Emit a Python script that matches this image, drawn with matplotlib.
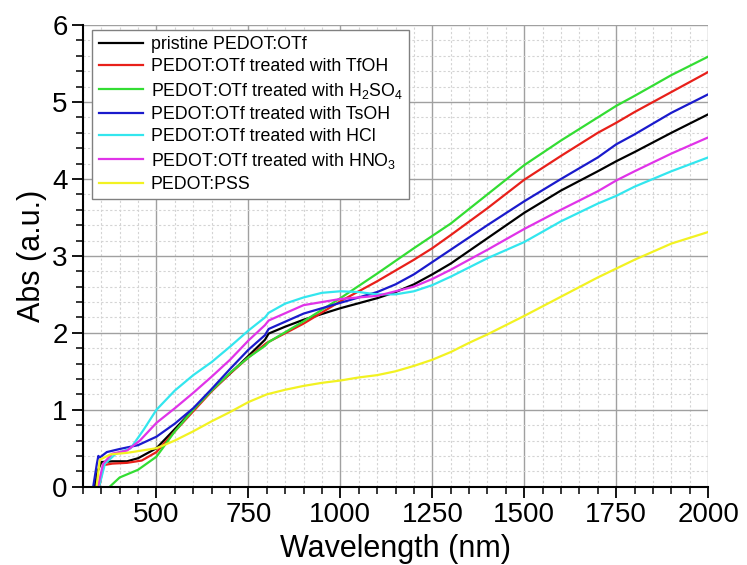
import matplotlib
matplotlib.use("Agg")
import matplotlib.pyplot as plt
from matplotlib.ticker import MultipleLocator

plt.rcParams['font.family'] = ['Liberation Sans', 'DejaVu Sans']
plt.rcParams['mathtext.fontset'] = 'custom'
plt.rcParams['mathtext.rm'] = 'Liberation Sans'
plt.rcParams['mathtext.it'] = 'Liberation Sans:italic'

# data (wavelength in nm, absorbance in a.u.)
wl_black = [332, 340, 350, 380, 420, 450, 500, 550, 600, 650, 700, 750, 795, 805, 850, 900, 1000,
            1100, 1150, 1200, 1250, 1300, 1400, 1500, 1600, 1700, 1750, 1800, 1900, 2000]
abs_black = [0, 0.2, 0.32, 0.33, 0.33, 0.37, 0.5, 0.75, 1.0, 1.25, 1.47, 1.7, 1.91, 1.99, 2.08, 2.17, 2.32,
             2.45, 2.53, 2.63, 2.76, 2.9, 3.23, 3.56, 3.85, 4.1, 4.23, 4.35, 4.6, 4.84]

wl_red = [345, 355, 380, 420, 460, 500, 550, 600, 650, 700, 750, 800, 900, 1000, 1100, 1200, 1250,
          1300, 1400, 1500, 1600, 1700, 1750, 1800, 1900, 2000]
abs_red = [0, 0.28, 0.3, 0.31, 0.34, 0.45, 0.72, 0.98, 1.24, 1.47, 1.68, 1.87, 2.12, 2.41, 2.67, 2.95, 3.1,
           3.27, 3.62, 3.99, 4.3, 4.6, 4.73, 4.87, 5.13, 5.39]

wl_green = [373, 400, 450, 500, 550, 600, 650, 700, 750, 795, 805, 900, 1000, 1100, 1200, 1250, 1300,
            1400, 1500, 1600, 1700, 1750, 1800, 1900, 2000]
abs_green = [0, 0.12, 0.22, 0.39, 0.72, 1.0, 1.25, 1.48, 1.68, 1.83, 1.88, 2.15, 2.45, 2.77, 3.1, 3.26, 3.42,
             3.8, 4.18, 4.5, 4.8, 4.95, 5.08, 5.35, 5.59]

wl_blue = [328, 338, 342, 346, 365, 400, 450, 500, 550, 600, 650, 700, 750, 795, 805, 900, 1000, 1100,
           1150, 1200, 1250, 1300, 1400, 1500, 1600, 1700, 1750, 1800, 1900, 2000]
abs_blue = [0, 0.3, 0.4, 0.38, 0.45, 0.49, 0.54, 0.65, 0.82, 1.02, 1.27, 1.53, 1.78, 1.97, 2.05, 2.25, 2.39, 2.53,
            2.63, 2.76, 2.92, 3.08, 3.4, 3.71, 4.0, 4.28, 4.45, 4.58, 4.86, 5.1]

wl_cyan = [344, 360, 390, 430, 465, 500, 550, 600, 650, 700, 750, 795, 805, 850, 900, 950, 1000, 1050,
           1100, 1150, 1200, 1250, 1300, 1400, 1500, 1600, 1700, 1750, 1800, 1900, 2000]
abs_cyan = [0, 0.3, 0.43, 0.5, 0.74, 1.0, 1.25, 1.45, 1.62, 1.82, 2.03, 2.2, 2.26, 2.38, 2.46, 2.52, 2.54, 2.53,
            2.5, 2.5, 2.54, 2.62, 2.73, 2.97, 3.18, 3.45, 3.68, 3.78, 3.9, 4.1, 4.28]

wl_magenta = [341, 355, 380, 420, 455, 500, 550, 600, 650, 700, 750, 795, 805, 900, 1000, 1100, 1200,
              1250, 1300, 1400, 1500, 1600, 1700, 1750, 1800, 1900, 2000]
abs_magenta = [0, 0.3, 0.43, 0.47, 0.6, 0.83, 1.02, 1.22, 1.43, 1.65, 1.9, 2.1, 2.16, 2.36, 2.44, 2.48, 2.6,
               2.7, 2.82, 3.08, 3.35, 3.6, 3.84, 3.98, 4.1, 4.33, 4.54]

wl_yellow = [337, 346, 375, 420, 500, 550, 600, 650, 700, 750, 800, 850, 900, 950, 1000, 1050, 1100,
             1150, 1200, 1250, 1300, 1350, 1400, 1450, 1500, 1600, 1700, 1800, 1900, 2000]
abs_yellow = [0, 0.35, 0.42, 0.44, 0.5, 0.6, 0.72, 0.85, 0.97, 1.1, 1.2, 1.26, 1.31, 1.35, 1.38, 1.42, 1.45,
              1.5, 1.57, 1.65, 1.75, 1.87, 1.98, 2.1, 2.22, 2.47, 2.72, 2.95, 3.16, 3.31]

series = [
    (wl_black, abs_black, 'black', 'pristine PEDOT:OTf'),
    (wl_red, abs_red, '#e8201a', 'PEDOT:OTf treated with TfOH'),
    (wl_green, abs_green, '#33dd33', 'PEDOT:OTf treated with H$_2$SO$_4$'),
    (wl_blue, abs_blue, '#1a1acc', 'PEDOT:OTf treated with TsOH'),
    (wl_cyan, abs_cyan, '#33e6ee', 'PEDOT:OTf treated with HCl'),
    (wl_magenta, abs_magenta, '#e033e8', 'PEDOT:OTf treated with HNO$_3$'),
    (wl_yellow, abs_yellow, '#f2f222', 'PEDOT:PSS'),
]

fig = plt.figure(figsize=(7.47, 5.65), dpi=100)
ax = fig.add_axes([0.111, 0.1386, 0.837, 0.817])

for x, y, c, lab in series:
    ax.plot(x, y, color=c, lw=1.6, label=lab)

ax.set_xlim(300, 2000)
ax.set_ylim(0, 6)
ax.xaxis.set_major_locator(MultipleLocator(250))
ax.xaxis.set_minor_locator(MultipleLocator(50))
ax.yaxis.set_major_locator(MultipleLocator(1))
ax.yaxis.set_minor_locator(MultipleLocator(0.2))
ax.set_xticks([500, 750, 1000, 1250, 1500, 1750, 2000])

# 网格
ax.grid(which='major', color='#a0a0a0', lw=1.0)
ax.grid(which='minor', color='#d4d4d4', lw=0.8, ls=(0, (2, 2)))
ax.set_axisbelow(True)

ax.spines['top'].set_visible(False)
ax.spines['right'].set_visible(False)
ax.spines['left'].set_linewidth(1.5)
ax.spines['bottom'].set_linewidth(1.5)
ax.tick_params(which='major', direction='out', length=8, width=1.3, labelsize=20, pad=3)
ax.tick_params(which='minor', direction='out', length=5, width=1.1)

ax.set_xlabel('Wavelength (nm)', fontsize=22, labelpad=4)
ax.set_ylabel('Abs (a.u.)', fontsize=22, labelpad=4)

leg = ax.legend(loc='upper left', bbox_to_anchor=(0.015, 0.99), borderaxespad=0,
                fontsize=12.8, handlelength=2.5, handletextpad=0.45, labelspacing=0.3,
                borderpad=0.35, fancybox=False, framealpha=1, edgecolor='#808080')
leg.get_frame().set_linewidth(1.0)

fig.savefig('out.png', dpi=100)
